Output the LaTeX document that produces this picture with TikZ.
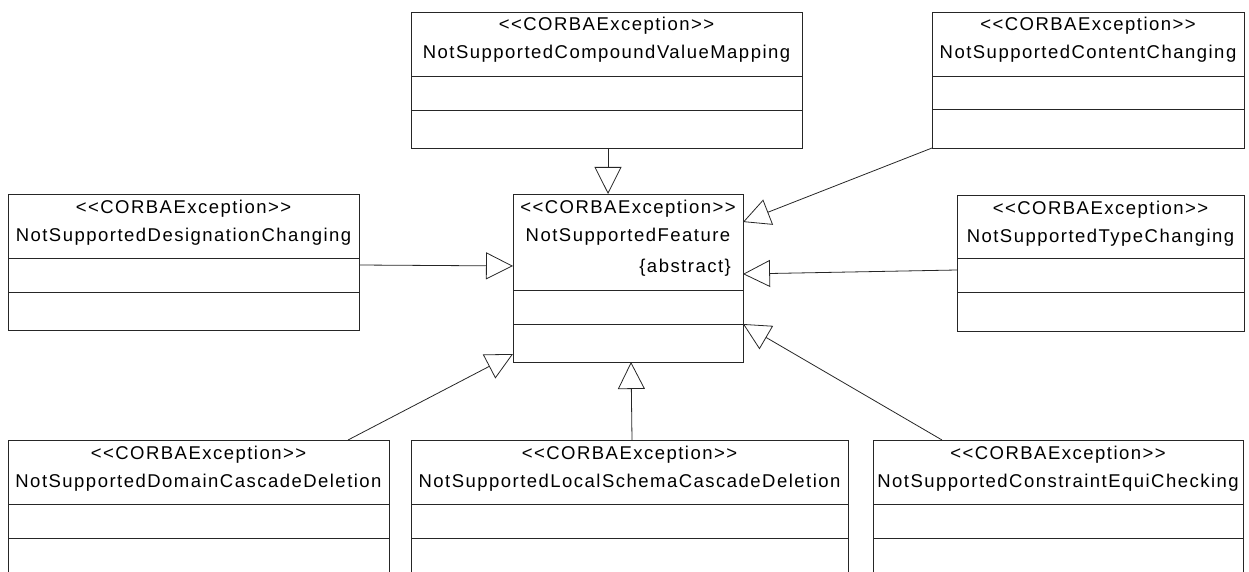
\documentclass[tikz,border=0pt]{standalone}
\usepackage{fontspec}
% plain family: no TeX ligature mapping, so << and >> stay as typed
\newfontfamily\umlfont{Liberation Sans}[LetterSpace=8]
\usetikzlibrary{arrows.meta}

% two horizontal compartment lines below the top of a class box
\newcommand\umldiv[3]{%
  \draw[boxline] ([yshift=-#2pt]#1.north west) -- ([yshift=-#2pt]#1.north east);
  \draw[boxline] ([yshift=-#3pt]#1.north west) -- ([yshift=-#3pt]#1.north east);
}

\tikzset{
  boxline/.style={line width=0.9pt, draw=black!85},
  umlbox/.style={boxline, draw, anchor=north west, inner sep=0pt, outer sep=0pt},
  ltxt/.style={anchor=base, inner sep=0pt, font=\umlfont\fontsize{18.5}{22}\selectfont},
  gen/.style={line width=0.8pt, draw=black!85,
    -{Triangle[open, length=27pt, width=27pt, line width=0.8pt]}},
}

\begin{document}
\begin{tikzpicture}[x=1pt, y=-1pt]
\useasboundingbox (0,0) rectangle (1249,572);
\clip (0,0) rectangle (1249,572);

% class boxes
\node[umlbox, minimum width=391pt, minimum height=136pt] (cvm) at (411,12) {};
\node[umlbox, minimum width=312pt, minimum height=136pt] (content) at (932,12) {};
\node[umlbox, minimum width=351pt, minimum height=136pt] (desig) at (8,194) {};
\node[umlbox, minimum width=230pt, minimum height=168pt] (feat) at (513,194) {};
\node[umlbox, minimum width=287pt, minimum height=136pt] (type) at (957,195) {};
\node[umlbox, minimum width=381pt, minimum height=136pt] (domain) at (8,440) {};
\node[umlbox, minimum width=437pt, minimum height=136pt] (local) at (411,440) {};
\node[umlbox, minimum width=370pt, minimum height=136pt] (constr) at (873,440) {};

\umldiv{cvm}{64}{98}
\umldiv{content}{64}{97}
\umldiv{desig}{64}{98}
\umldiv{feat}{96}{130}
\umldiv{type}{63}{97}
\umldiv{domain}{64}{98}
\umldiv{local}{64}{98}
\umldiv{constr}{64}{98}

% labels
\foreach \n/\t in {cvm/NotSupportedCompoundValueMapping,
                   content/NotSupportedContentChanging,
                   desig/NotSupportedDesignationChanging,
                   feat/NotSupportedFeature,
                   type/NotSupportedTypeChanging,
                   domain/NotSupportedDomainCascadeDeletion,
                   local/NotSupportedLocalSchemaCascadeDeletion,
                   constr/NotSupportedConstraintEquiChecking} {
  \node[ltxt] (\n-st) at ([yshift=-19pt]\n.north) {<<CORBAException>>};
  \node[ltxt] (\n-nm) at ([yshift=-47pt]\n.north) {\t};
}
\node[ltxt, anchor=base east] (feat-abs) at ([xshift=-12pt, yshift=-78pt]feat.north east) {\{abstract\}};

% generalisations
\draw[gen] ([xshift=1.5pt]cvm.south) -- ([xshift=1.5pt]cvm.south |- feat.north);
\draw[gen] (content.south west) -- ([yshift=-28pt]feat.north east);
\draw[gen] ([yshift=-75pt]type.north west) -- ([yshift=-80pt]feat.north east);
\draw[gen] ([yshift=-71pt]desig.north east) -- ([yshift=-72pt]feat.north west);
\draw[gen] ([xshift=-41pt]domain.north east) -- ([yshift=8pt]feat.south west);
\draw[gen] ([xshift=221pt]local.north west) -- ([xshift=220pt]local.north west |- feat.south);
\draw[gen] ([xshift=69pt]constr.north west) -- ([yshift=-130pt]feat.north east);
\end{tikzpicture}
\end{document}
